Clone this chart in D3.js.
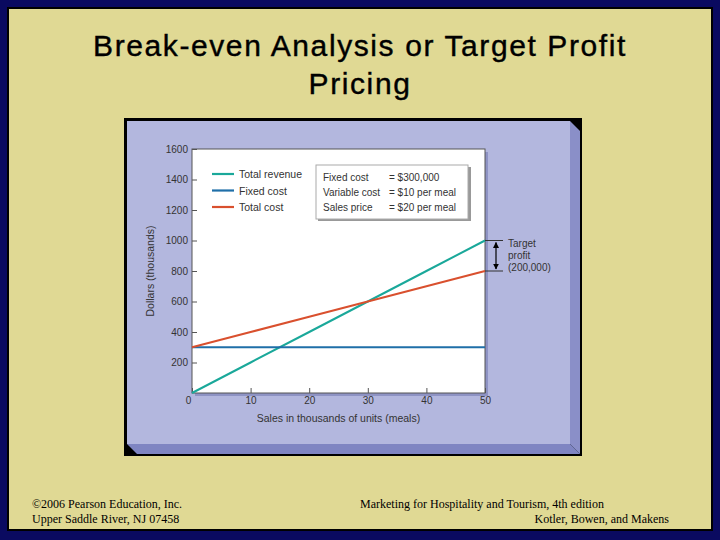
<!DOCTYPE html><html><head><meta charset="utf-8"><script src="https://cdn.jsdelivr.net/npm/d3@7"></script>
<style>body{margin:0}</style></head><body><script>
const units=[0,10,20,30,40,50];
const totalRevenue=[0,200,400,600,800,1000];
const fixedCost=[300,300,300,300,300,300];
const totalCost=[300,400,500,600,700,800];
const xTicks=[0,10,20,30,40,50];
const yTicks=[200,400,600,800,1000,1200,1400,1600];
const series=[{name:"Total revenue",values:totalRevenue,color:"#1aa89a"},{name:"Fixed cost",values:fixedCost,color:"#1f6fa8"},{name:"Total cost",values:totalCost,color:"#d9502e"}];
const notes=[["Fixed cost","= $300,000"],["Variable cost","= $10 per meal"],["Sales price","= $20 per meal"]];
const svg=d3.select("body").append("svg").attr("width",720).attr("height",540);
svg.append("rect").attr("width",720).attr("height",540).attr("fill","#0a0a60");
svg.append("rect").attr("x",8).attr("y",8).attr("width",704).attr("height",522).attr("fill","#e0d994").attr("stroke","#000").attr("stroke-width",2);
svg.append("text").attr("x",360).attr("y",56).attr("text-anchor","middle").attr("font-family","Liberation Sans").attr("font-size",30).attr("letter-spacing",1.6).attr("stroke","#000").attr("stroke-width",0.4).text("Break-even Analysis or Target Profit");
svg.append("text").attr("x",360).attr("y",94).attr("text-anchor","middle").attr("font-family","Liberation Sans").attr("font-size",30).attr("letter-spacing",1.6).attr("stroke","#000").attr("stroke-width",0.4).text("Pricing");
svg.append("rect").attr("x",124).attr("y",118).attr("width",458).attr("height",338).attr("fill","#000");
svg.append("polygon").attr("points","570,121 580,131 580,454 570,444").attr("fill","#8a8fc8");
svg.append("polygon").attr("points","127,444 570,444 580,454 137,454").attr("fill","#7f85c2");
svg.append("rect").attr("x",127).attr("y",121).attr("width",443).attr("height",323).attr("fill","#b3b7de");
const L=192,R=485,T=149,B=393;
svg.append("rect").attr("x",L+3).attr("y",T+3).attr("width",R-L).attr("height",B-T).attr("fill","#8e93c4");
svg.append("rect").attr("x",L).attr("y",T).attr("width",R-L).attr("height",B-T).attr("fill","#fff").attr("stroke","#555");
const x=d3.scaleLinear().domain([0,50]).range([L,R]);
const y=d3.scaleLinear().domain([0,1600]).range([B,T]);
const f="Liberation Sans";
const ya=svg.append("g").attr("transform",`translate(${L},0)`).call(d3.axisLeft(y).tickValues(yTicks).tickFormat(d3.format("d")).tickSize(-5).tickPadding(4));
ya.select(".domain").remove();ya.selectAll("text").attr("font-family",f).attr("font-size",10).attr("fill","#333");ya.selectAll("line").attr("stroke","#555");
const xa=svg.append("g").attr("transform",`translate(0,${B})`).call(d3.axisBottom(x).tickValues(xTicks).tickFormat(d3.format("d")).tickSize(-5).tickPadding(4));
xa.select(".domain").remove();xa.selectAll("text").attr("font-family",f).attr("font-size",10).attr("fill","#333");xa.selectAll("line").attr("stroke","#555");
xa.selectAll(".tick").filter(d=>d===0).select("text").attr("dx",-4);
svg.append("text").attr("x",x(25)).attr("y",422).attr("text-anchor","middle").attr("font-family",f).attr("font-size",10.5).attr("fill","#333").text("Sales in thousands of units (meals)");
svg.append("text").attr("transform",`translate(154,${y(800)}) rotate(-90)`).attr("text-anchor","middle").attr("font-family",f).attr("font-size",10.5).attr("fill","#333").text("Dollars (thousands)");
const line=d3.line().x((d,i)=>x(units[i])).y(d=>y(d));
series.forEach(s=>svg.append("path").attr("d",line(s.values)).attr("fill","none").attr("stroke",s.color).attr("stroke-width",2));
series.forEach((s,i)=>{const yy=174+i*16.5;svg.append("line").attr("x1",212).attr("x2",234).attr("y1",yy).attr("y2",yy).attr("stroke",s.color).attr("stroke-width",2.2);
svg.append("text").attr("x",239).attr("y",yy+4).attr("font-family",f).attr("font-size",10.5).attr("fill","#333").text(s.name);});
svg.append("rect").attr("x",318).attr("y",167).attr("width",153).attr("height",54).attr("fill","#999");
svg.append("rect").attr("x",316).attr("y",165).attr("width",152).attr("height",54).attr("fill","#fff").attr("stroke","#aaa");
notes.forEach((n,i)=>{const yy=181+i*15;svg.append("text").attr("x",323).attr("y",yy).attr("font-family",f).attr("font-size",10).attr("fill","#333").text(n[0]);
svg.append("text").attr("x",389).attr("y",yy).attr("font-family",f).attr("font-size",10).attr("fill","#333").text(n[1]);});
svg.append("line").attr("x1",R).attr("x2",R+18).attr("y1",y(1000)).attr("y2",y(1000)).attr("stroke","#333");
svg.append("line").attr("x1",R).attr("x2",R+18).attr("y1",y(800)).attr("y2",y(800)).attr("stroke","#333");
svg.append("defs").append("marker").attr("id","a").attr("viewBox","0 0 10 10").attr("refX",9).attr("refY",5).attr("markerWidth",5).attr("markerHeight",5).attr("orient","auto-start-reverse").append("path").attr("d","M0,0L10,5L0,10z").attr("fill","#000");
svg.append("line").attr("x1",496).attr("x2",496).attr("y1",y(1000)+2).attr("y2",y(800)-2).attr("stroke","#000").attr("stroke-width",1.2).attr("marker-start","url(#a)").attr("marker-end","url(#a)");
["Target","profit","(200,000)"].forEach((t,i)=>svg.append("text").attr("x",508).attr("y",y(1000)+6+i*12).attr("font-family",f).attr("font-size",10).attr("fill","#333").text(t));
const sf="Liberation Serif";
svg.append("text").attr("x",32).attr("y",508).attr("font-family",sf).attr("font-size",12).text("©2006 Pearson Education, Inc.");
svg.append("text").attr("x",32).attr("y",523).attr("font-family",sf).attr("font-size",12).text("Upper Saddle River, NJ 07458");
svg.append("text").attr("x",360).attr("y",508).attr("font-family",sf).attr("font-size",12).text("Marketing for Hospitality and Tourism, 4th edition");
svg.append("text").attr("x",669).attr("y",523).attr("text-anchor","end").attr("font-family",sf).attr("font-size",12).text("Kotler, Bowen, and Makens");
</script></body></html>
